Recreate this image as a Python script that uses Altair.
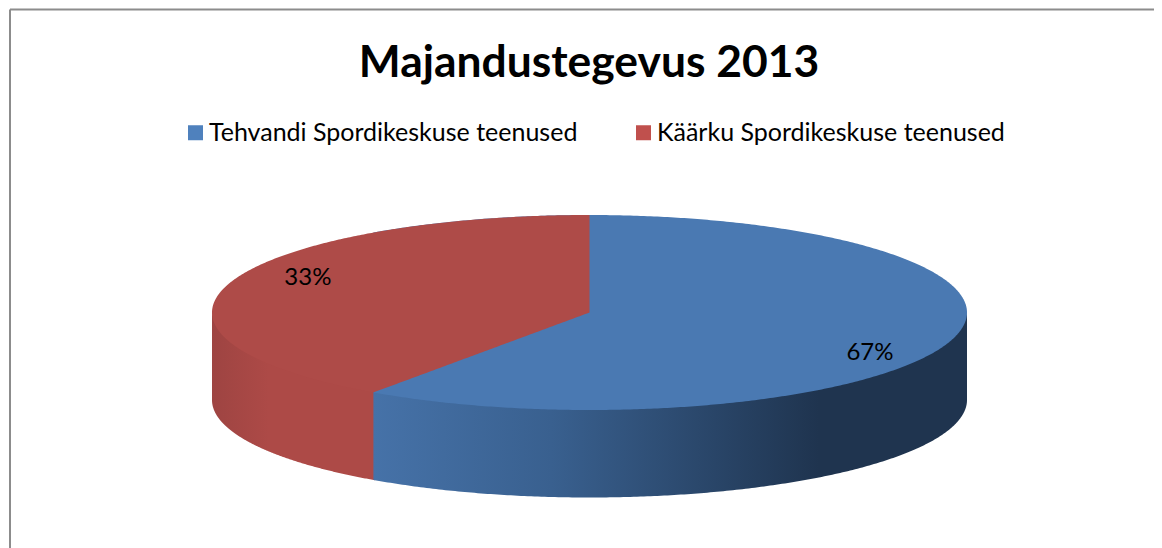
import math
import altair as alt
import pandas as pd

# ---- values ----
title_text = "Majandustegevus 2013"
series = ["Tehvandi Spordikeskuse teenused", "Käärku Spordikeskuse teenused"]
labels = ["67%", "33%"]
# share of the ellipse each slice occupies as drawn (clockwise from 12 o'clock)
drawn_shares = [59.7, 40.3]
label_angles = [119.2, 295.4]
label_radius = [0.851, 0.826]
legend_colors = ["#4F81BD", "#C0504D"]
top_colors = ["#4A79B2", "#AE4B48"]

# ---- layout ----
W, H = 1146, 540
CX, CY, RX, RY = 589.5 - 8, 312.5 - 8, 377.5, 97.5
DEPTH = 87.5 / RY

x_enc = alt.X("x:Q", axis=None, scale=alt.Scale(domain=[-CX / RX, (W - CX) / RX], nice=False, zero=False))
y_enc = alt.Y("y:Q", axis=None, scale=alt.Scale(domain=[(H - CY) / RY, -CY / RY], nice=False, zero=False))


def ex(deg):
    return math.sin(math.radians(deg))


def ey(deg):
    return -math.cos(math.radians(deg))


cut = drawn_shares[0] * 3.6
N = 240


def lower_y(x):
    return math.sqrt(max(0.0, 1 - x * x))


def sample_x(a, b, n=N):
    # dense near the ellipse's ends, so the curve stays round
    ta, tb = math.acos(a), math.acos(b)
    return [math.cos(ta + (tb - ta) * i / n) for i in range(n + 1)]


cut_x, cut_y = ex(cut), ey(cut)

# The blue face runs under the red one, so no light seam shows between them.
blue_rows = [{"x": x, "y": -lower_y(x), "y2": lower_y(x)} for x in sample_x(cut_x, 1.0)]
red_rows = []
for x in sample_x(-1.0, 0.0) + [cut_x]:
    bottom = lower_y(x) if x <= cut_x else cut_y * x / cut_x
    red_rows.append({"x": x, "y": -lower_y(x), "y2": bottom})
red_rows.sort(key=lambda r: r["x"])

# Walls start a little above the rim, under the faces, for the same reason.
OVERLAP = 0.04
wall_blue = [{"x": x, "y": lower_y(x) - OVERLAP, "y2": lower_y(x) + DEPTH} for x in sample_x(cut_x, 1.0)]
wall_red = [{"x": x, "y": lower_y(x) - OVERLAP, "y2": lower_y(x) + DEPTH} for x in sample_x(-1.0, cut_x + 0.004)]


def wall(rows, stops):
    return (
        alt.Chart(pd.DataFrame(rows))
        .mark_area(
            interpolate="linear",
            color=alt.LinearGradient(
                gradient="linear", x1=0, x2=1, y1=0, y2=0,
                stops=[alt.GradientStop(color=c, offset=o) for o, c in stops],
            ),
        )
        .encode(x=x_enc, y=y_enc, y2="y2:Q")
    )


def face(rows, color):
    return (
        alt.Chart(pd.DataFrame(rows))
        .mark_area(interpolate="linear", color=color)
        .encode(x=x_enc, y=y_enc, y2="y2:Q")
    )


# hidden points carry the legend
legend_layer = (
    alt.Chart(pd.DataFrame({"series": series, "x": [0, 0], "y": [0, 0]}))
    .mark_square(size=0, opacity=1)
    .encode(
        x=x_enc,
        y=y_enc,
        color=alt.Color(
            "series:N",
            sort=series,
            scale=alt.Scale(domain=series, range=legend_colors),
            legend=alt.Legend(
                title=None,
                orient="none",
                legendX=175,
                legendY=112,
                direction="horizontal",
                symbolType="square",
                symbolSize=225,
                symbolStrokeWidth=0,
                symbolOpacity=1,
                labelFont="Lato",
                labelFontSize=25,
                labelColor="#000000",
                labelLimit=500,
                labelOffset=1,
                columnPadding=53,
                padding=0,
            ),
        ),
    )
)

label_df = pd.DataFrame(
    {
        "label": labels,
        "x": [r * ex(a) for r, a in zip(label_radius, label_angles)],
        "y": [r * ey(a) for r, a in zip(label_radius, label_angles)],
    }
)
label_layer = (
    alt.Chart(label_df)
    .mark_text(font="Lato", fontSize=24, color="#000000", align="center", baseline="middle")
    .encode(x=x_enc, y=y_enc, text="label:N")
)

frame_top = alt.Chart(pd.DataFrame({"a": [0]})).mark_rule(color="#8C8C8C", strokeWidth=2).encode(
    x=alt.value(2), x2=alt.value(W), y=alt.value(1.5)
)
frame_left = alt.Chart(pd.DataFrame({"a": [0]})).mark_rule(color="#8C8C8C", strokeWidth=2).encode(
    x=alt.value(2), y=alt.value(1.5), y2=alt.value(H)
)

chart = (
    alt.layer(
        frame_top,
        frame_left,
        wall(wall_red, [(0, "#9E4442"), (0.35, "#AD4A47"), (1, "#AD4A47")]),
        wall(wall_blue, [(0, "#4672A8"), (0.3, "#39608F"), (0.75, "#1F344F"), (1, "#1F344F")]),
        face(blue_rows, top_colors[0]),
        face(red_rows, top_colors[1]),
        legend_layer,
        label_layer,
    )
    .properties(
        width=W,
        height=H,
        padding=0,
        autosize=alt.AutoSizeParams(type="none"),
        background="#FFFFFF",
        title=alt.TitleParams(
            title_text,
            anchor="middle",
            font="Lato",
            fontSize=44.4,
            fontWeight="bold",
            color="#000000",
            dy=78,
            dx=8,
            offset=0,
        ),
    )
    .configure_view(stroke=None)
)

chart.save("out.html", embed_options={"renderer": "svg", "actions": False})
